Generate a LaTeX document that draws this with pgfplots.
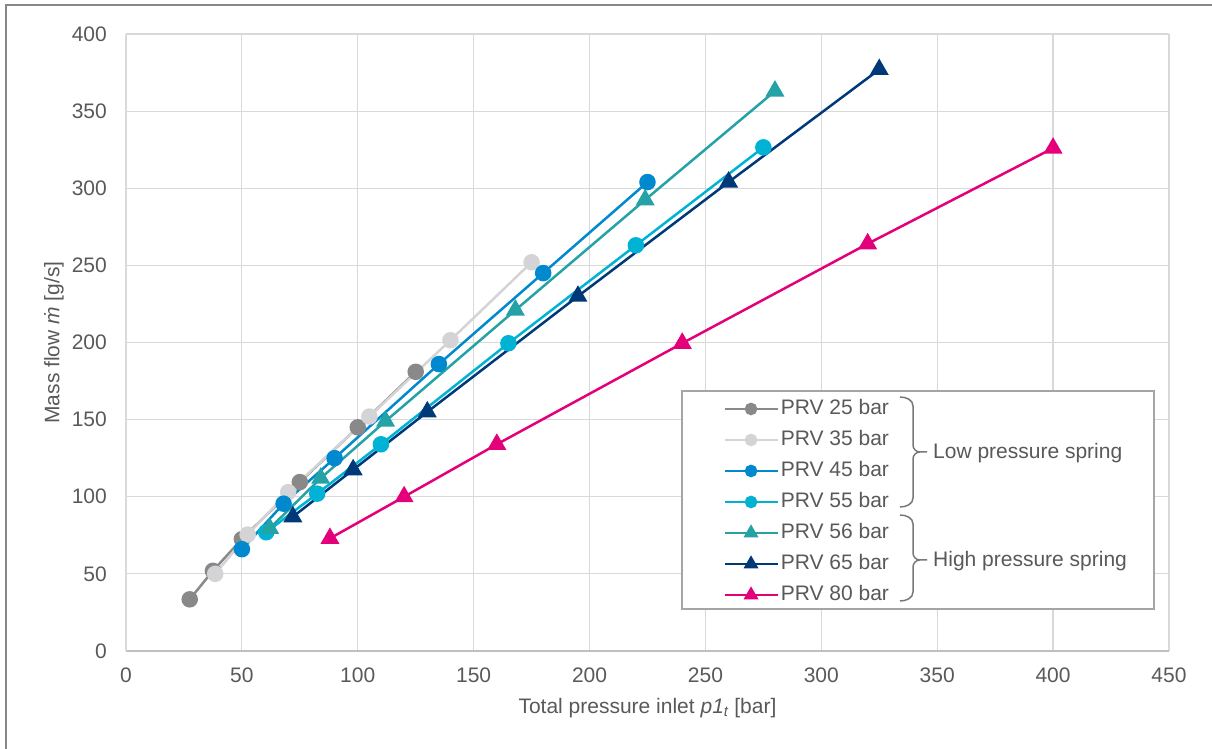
\documentclass[border=0pt]{standalone}
\usepackage{fontspec}
\setmainfont{Liberation Sans}
\usepackage{pgfplots}
\pgfplotsset{compat=1.18}
\definecolor{c25}{RGB}{137,137,137}
\definecolor{c35}{RGB}{212,212,214}
\definecolor{c45}{RGB}{0,137,207}
\definecolor{c55}{RGB}{0,178,212}
\definecolor{c56}{RGB}{37,162,165}
\definecolor{c65}{RGB}{0,57,120}
\definecolor{c80}{RGB}{227,0,122}
\definecolor{txt}{RGB}{89,89,89}
\definecolor{gridc}{RGB}{217,217,217}
\definecolor{axc}{RGB}{191,191,191}
\definecolor{boxc}{RGB}{165,165,165}
\definecolor{framec}{RGB}{135,135,135}
\definecolor{brc}{RGB}{120,120,120}
\newcommand{\F}{\fontsize{21bp}{25bp}\selectfont}
\begin{document}
\begin{tikzpicture}
\useasboundingbox (-126bp,-98bp) rectangle (1086bp,651bp);
\draw[framec, line width=2bp] (-119.5bp,-98bp) -- (-119.5bp,646.3bp) -- (1086bp,646.3bp);
\begin{axis}[
  scale only axis, width=1043bp, height=617bp,
  xmin=0, xmax=450, ymin=0, ymax=400,
  xtick={0,50,...,450}, ytick={0,50,...,400},
  grid=major, major grid style={gridc, line width=1.2bp},
  axis x line=bottom, axis y line=left,
  x axis line style={axc, line width=1.5bp, -},
  y axis line style={gridc, line width=1.2bp, -},
  major tick length=0pt,
  /pgf/number format/assume math mode=true,
  tick label style={font=\F, text=txt},
  xticklabel style={anchor=north, inner sep=0pt, yshift=-17bp},
  yticklabel style={anchor=east, inner sep=0pt, xshift=-19bp},
  xlabel={Total pressure inlet \textit{p1\textsubscript{t}} [bar]},
  ylabel={Mass flow \textit{\.m} [g/s]},
  label style={font=\F, text=txt},
  xlabel style={at={(axis description cs:0.5,-0.0924)}, anchor=center},
  ylabel style={at={(axis description cs:-0.069,0.5)}, anchor=center},
  every mark/.append style={solid, line width=0.5bp},
  legend style={draw=none, fill=none, at={(axis description cs:0.5725,0.408)}, anchor=north west,
    inner sep=0pt, row sep=12bp, column sep=2bp, font=\F, text=txt,
    nodes={inner sep=0pt, text height=15bp, text depth=4bp}},
  legend cell align=left,
  legend image code/.code={\draw[mark repeat=2,mark phase=2, every mark/.append style={scale=0.72}] plot coordinates {(0bp,0bp)(26.5bp,0bp)(53bp,0bp)};},
]
\addplot[c25, line width=2.5bp, mark=*, mark size=7bp] coordinates {(27.5,33.5)(37.5,52)(50,72.5)(75,109.5)(100,145)(125,181)};
\addlegendentry{PRV 25 bar}
\addplot[c35, line width=2.5bp, mark=*, mark size=7bp] coordinates {(38.5,50)(52.5,75.5)(70,103)(105,152)(140,201.5)(175,252)};
\addlegendentry{PRV 35 bar}
\addplot[c45, line width=2.5bp, mark=*, mark size=7bp] coordinates {(50,66)(68,95.5)(90,125)(135,186)(180,245)(225,304)};
\addlegendentry{PRV 45 bar}
\addplot[c55, line width=2.5bp, mark=*, mark size=7bp] coordinates {(60.5,77)(82.5,102)(110,134)(165,199.5)(220,263)(275,326.5)};
\addlegendentry{PRV 55 bar}
\addplot[c56, line width=2.5bp, mark=triangle*, mark size=8.5bp] coordinates {(62,79.5)(84,112)(112,149)(168,221)(224,292.5)(280,363)};
\addlegendentry{PRV 56 bar}
\addplot[c65, line width=2.5bp, mark=triangle*, mark size=8.5bp] coordinates {(72,87)(98,117.5)(130,155)(195,230)(260,304)(325,377)};
\addlegendentry{PRV 65 bar}
\addplot[c80, line width=2.5bp, mark=triangle*, mark size=8.5bp] coordinates {(88,73)(120,100)(160,134)(240,199.5)(320,264)(400,326)};
\addlegendentry{PRV 80 bar}
\draw[boxc, line width=1.5bp, fill=white] (rel axis cs:0.5331,0.0681) rectangle (rel axis cs:0.9856,0.4214);
\end{axis}
\begin{scope}[brc, line width=1.5bp]
\draw (774bp,254bp) to[out=0,in=90] (787bp,245bp) -- (787bp,206bp) to[out=-90,in=180] (794bp,199bp) -- (801bp,199bp);
\draw (794bp,199bp) to[out=180,in=90] (787bp,192bp) -- (787bp,153bp) to[out=-90,in=0] (774bp,144bp);
\draw (774bp,136bp) to[out=0,in=90] (787bp,127bp) -- (787bp,98bp) to[out=-90,in=180] (794bp,91bp) -- (801bp,91bp);
\draw (794bp,91bp) to[out=180,in=90] (787bp,84bp) -- (787bp,59bp) to[out=-90,in=0] (774bp,50bp);
\end{scope}
\node[anchor=west, font=\F, text=txt, inner sep=0pt] at (807bp,198bp) {Low pressure spring};
\node[anchor=west, font=\F, text=txt, inner sep=0pt] at (807bp,90bp) {High pressure spring};
\end{tikzpicture}
\end{document}
